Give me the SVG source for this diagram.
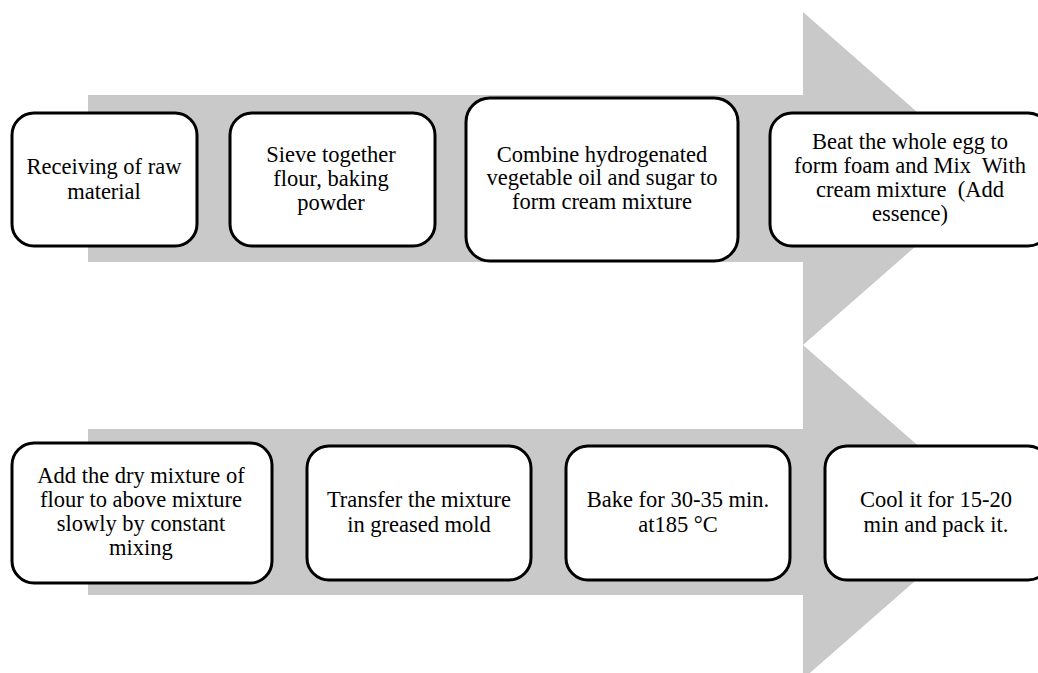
<svg xmlns="http://www.w3.org/2000/svg" width="1038" height="673" viewBox="0 0 1038 673">
<style>
.arrow{fill:#c9c9c9;stroke:none}
.box{fill:#ffffff;stroke:#000000;stroke-width:3}
.t{font-family:"Liberation Serif","Times New Roman",serif;font-size:22.5px;fill:#000000;text-anchor:middle;white-space:pre}
</style>
<rect x="0" y="0" width="1038" height="673" fill="#ffffff"/>
<g id="connectors">
<polygon class="arrow" points="88,95 803,95 803,12 993,178.5 803,345 803,262 88,262"/>
<polygon class="arrow" points="88,429 803,429 803,345 994,512 803,679 803,595 88,595"/>
</g>
<g id="n1">
<rect class="box" x="12" y="113" width="185" height="133" rx="22"/>
<text class="t" x="104" y="174">Receiving of raw</text>
<text class="t" x="104" y="199">material</text>
</g>
<g id="n2">
<rect class="box" x="230" y="113" width="205" height="133" rx="22"/>
<text class="t" x="331" y="162">Sieve together</text>
<text class="t" x="331" y="186">flour, baking</text>
<text class="t" x="331" y="210">powder</text>
</g>
<g id="n3">
<rect class="box" x="466" y="98" width="272" height="163" rx="24"/>
<text class="t" x="602" y="162">Combine hydrogenated</text>
<text class="t" x="602" y="185">vegetable oil and sugar to</text>
<text class="t" x="602" y="209">form cream mixture</text>
</g>
<g id="n4">
<rect class="box" x="770" y="113" width="280" height="133" rx="22"/>
<text class="t" x="910" y="149">Beat the whole egg to</text>
<text class="t" x="910" y="173">form foam and Mix  With</text>
<text class="t" x="910" y="197">cream mixture  (Add</text>
<text class="t" x="910" y="221">essence)</text>
</g>
<g id="n5">
<rect class="box" x="12" y="443" width="260" height="140" rx="22"/>
<text class="t" x="141" y="483">Add the dry mixture of</text>
<text class="t" x="141" y="507">flour to above mixture</text>
<text class="t" x="141" y="531">slowly by constant</text>
<text class="t" x="141" y="555">mixing</text>
</g>
<g id="n6">
<rect class="box" x="307" y="446" width="224" height="134" rx="22"/>
<text class="t" x="419" y="507">Transfer the mixture</text>
<text class="t" x="419" y="532">in greased mold</text>
</g>
<g id="n7">
<rect class="box" x="566" y="446" width="224" height="134" rx="22"/>
<text class="t" x="678" y="507">Bake for 30-35 min.</text>
<text class="t" x="678" y="532">at185 °C</text>
</g>
<g id="n8">
<rect class="box" x="825" y="446" width="225" height="134" rx="22"/>
<text class="t" x="936" y="507">Cool it for 15-20</text>
<text class="t" x="936" y="532">min and pack it.</text>
</g>
</svg>
